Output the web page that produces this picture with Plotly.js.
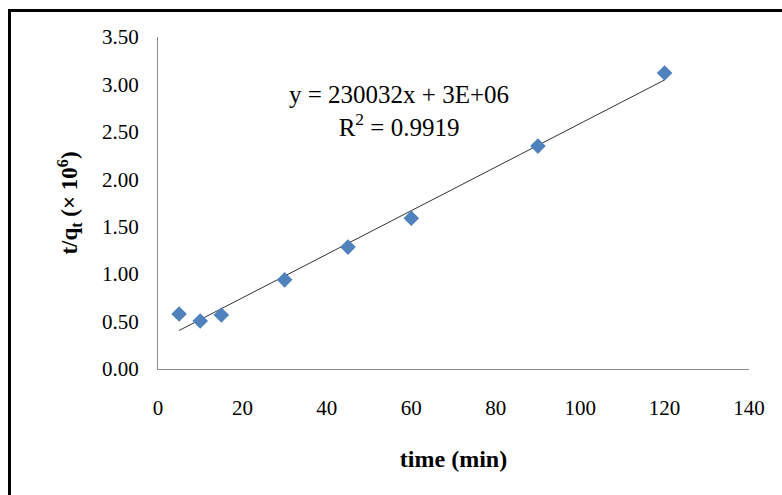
<!DOCTYPE html>
<html>
<head>
<meta charset="utf-8">
<script src="https://cdn.plot.ly/plotly-3.0.1.min.js"></script>
<style>
  html, body { margin: 0; padding: 0; background: #fff; }
  #chart { width: 782px; height: 495px; position: relative; }
  #frame { position: absolute; left: 8px; top: 9px; width: 790px; height: 500px;
           border-left: 3px solid #000; border-top: 3px solid #000; pointer-events: none; }
</style>
</head>
<body>
<div id="chart"></div>
<div id="frame"></div>
<script>
// Data
const timeMin = [5, 10, 15, 30, 45, 60, 90, 120];
const tOverQt = [0.58, 0.506, 0.57, 0.94, 1.285, 1.59, 2.35, 3.12];
const xTicks = [0, 20, 40, 60, 80, 100, 120, 140];
const yTicks = [0, 0.5, 1.0, 1.5, 2.0, 2.5, 3.0, 3.5];
const equationText = "y = 230032x + 3E+06<br>R<sup>2</sup> = 0.9919";

// Linear trendline (least squares) from the data
const n = timeMin.length;
const mx = timeMin.reduce((a, b) => a + b, 0) / n;
const my = tOverQt.reduce((a, b) => a + b, 0) / n;
let sxy = 0, sxx = 0;
for (let i = 0; i < n; i++) { sxy += (timeMin[i] - mx) * (tOverQt[i] - my); sxx += (timeMin[i] - mx) ** 2; }
const slope = sxy / sxx, intercept = my - slope * mx;
const fitX = [timeMin[0], timeMin[n - 1]];
const fitY = fitX.map(x => slope * x + intercept);

const font = "'Liberation Serif', 'Times New Roman', Times, serif";

const traces = [
  { x: fitX, y: fitY, mode: 'lines', type: 'scatter',
    line: { color: '#333333', width: 1 }, hoverinfo: 'skip', showlegend: false },
  { x: timeMin, y: tOverQt, mode: 'markers', type: 'scatter',
    marker: { symbol: 'diamond', size: 12, color: '#4F81BD' }, showlegend: false }
];

const layout = {
  width: 782, height: 495,
  margin: { l: 158, r: 33, t: 37, b: 126 },
  paper_bgcolor: 'rgba(0,0,0,0)', plot_bgcolor: 'rgba(0,0,0,0)',
  font: { family: font, size: 20, color: '#000' },
  showlegend: false,
  xaxis: {
    range: [0, 140], tickvals: xTicks, ticktext: xTicks.map(String),
    showgrid: false, zeroline: false, showline: true, linecolor: '#8c8c8c', linewidth: 1,
    ticks: '', ticklabelstandoff: 20, tickfont: { family: font, size: 21 },
    title: { text: '<b>time (min)</b>', font: { family: font, size: 24 }, standoff: 30 }
  },
  yaxis: {
    range: [0, 3.5], tickvals: yTicks, ticktext: yTicks.map(v => v.toFixed(2)),
    showgrid: false, zeroline: false, showline: true, linecolor: '#8c8c8c', linewidth: 1,
    ticks: '', ticklabelstandoff: 14, tickfont: { family: font, size: 21 },
    title: { text: '<b>t/q<sub>t</sub> (× 10<sup>6</sup>)</b>', font: { family: font, size: 23 }, standoff: 17 }
  },
  annotations: [{
    x: 57, y: 2.72, xref: 'x', yref: 'y', text: equationText, showarrow: false,
    align: 'center', font: { family: font, size: 25, color: '#000' }
  }]
};

Plotly.newPlot('chart', traces, layout, { displayModeBar: false, staticPlot: true });
</script>
</body>
</html>
